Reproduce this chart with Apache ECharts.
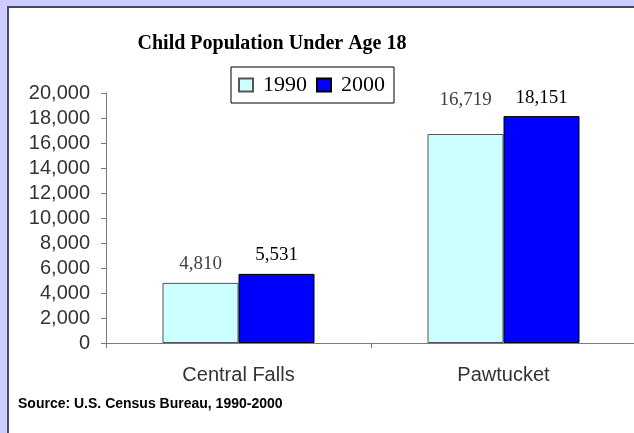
<!DOCTYPE html>
<html>
<head>
<meta charset="utf-8">
<script src="https://cdn.jsdelivr.net/npm/echarts@6/dist/echarts.min.js"></script>
<style>
html,body{margin:0;padding:0;background:#ccccff;}
#c{width:634px;height:433px;}
</style>
</head>
<body>
<div id="c"></div>
<script>
const categories = ["Central Falls", "Pawtucket"];
const seriesNames = ["1990", "2000"];
const values1990 = [4810, 16719];
const values2000 = [5531, 18151];
const yTicks = {min: 0, max: 20000, interval: 2000};
const titleText = "Child Population Under Age 18";
const sourceText = "Source: U.S. Census Bureau, 1990-2000";

const chart = echarts.init(document.getElementById('c'), null, {renderer: 'canvas'});
const fmt = v => Number(v).toLocaleString('en-US');
const serif = '"Liberation Serif", "Times New Roman", serif';
const sans = '"Liberation Sans", Arial, sans-serif';

// 16,719 label sits higher in the reference
const data1990 = values1990.map((v, i) => i === 1 ? {value: v, label: {distance: 24}} : v);

chart.setOption({
  backgroundColor: '#ccccff',
  animation: false,
  graphic: [
    {type: 'rect', shape: {x: 8, y: 7, width: 700, height: 500}, style: {fill: '#ffffff', stroke: '#4a4a5e', lineWidth: 2}, z: -10},
    {type: 'text', x: 272, y: 44, style: {text: titleText, font: 'bold 20px ' + serif, fill: '#000', textAlign: 'center', textVerticalAlign: 'middle'}},
    {type: 'text', x: 18, y: 404, style: {text: sourceText, font: 'bold 14px ' + sans, fill: '#000', textAlign: 'left', textVerticalAlign: 'middle'}}
  ],
  legend: {
    data: seriesNames,
    left: 231, top: 67,
    orient: 'horizontal',
    icon: 'rect',
    itemWidth: 14, itemHeight: 13, itemGap: 9,
    padding: [6, 9, 6, 7],
    borderColor: '#000', borderWidth: 1,
    backgroundColor: '#fff',
    textStyle: {fontFamily: serif, fontSize: 22, color: '#000', lineHeight: 24, padding: [0, 0, 0, 5]}
  },
  grid: {left: 106, right: -2, top: 93, bottom: 90, containLabel: false, outerBoundsMode: 'none'},
  xAxis: {
    type: 'category',
    data: categories,
    boundaryGap: true,
    axisLine: {show: true, lineStyle: {color: '#7a7a7a', width: 1}},
    axisTick: {show: true, length: 5, inside: false, alignWithLabel: false, lineStyle: {color: '#7a7a7a'}},
    axisLabel: {fontFamily: sans, fontSize: 20, color: '#333', margin: 22}
  },
  yAxis: {
    type: 'value',
    min: yTicks.min, max: yTicks.max, interval: yTicks.interval,
    axisLine: {show: true, lineStyle: {color: '#7a7a7a', width: 1}},
    axisTick: {show: true, length: 5, inside: false, lineStyle: {color: '#7a7a7a'}},
    splitLine: {show: false},
    axisLabel: {fontFamily: sans, fontSize: 20, color: '#333', margin: 16, formatter: fmt}
  },
  series: [
    {
      name: seriesNames[0], type: 'bar', data: data1990,
      barWidth: 76, barGap: '0%',
      itemStyle: {color: '#ccffff', borderColor: '#555555', borderWidth: 1},
      label: {show: true, position: 'top', distance: 9, fontFamily: serif, fontSize: 19, color: '#404040', formatter: p => fmt(p.value)}
    },
    {
      name: seriesNames[1], type: 'bar', data: values2000,
      barWidth: 76, barGap: '0%',
      itemStyle: {color: '#0000ff', borderColor: '#000000', borderWidth: 1},
      label: {show: true, position: 'top', distance: 9, fontFamily: serif, fontSize: 19, color: '#000', formatter: p => fmt(p.value)}
    }
  ]
});
</script>
</body>
</html>
